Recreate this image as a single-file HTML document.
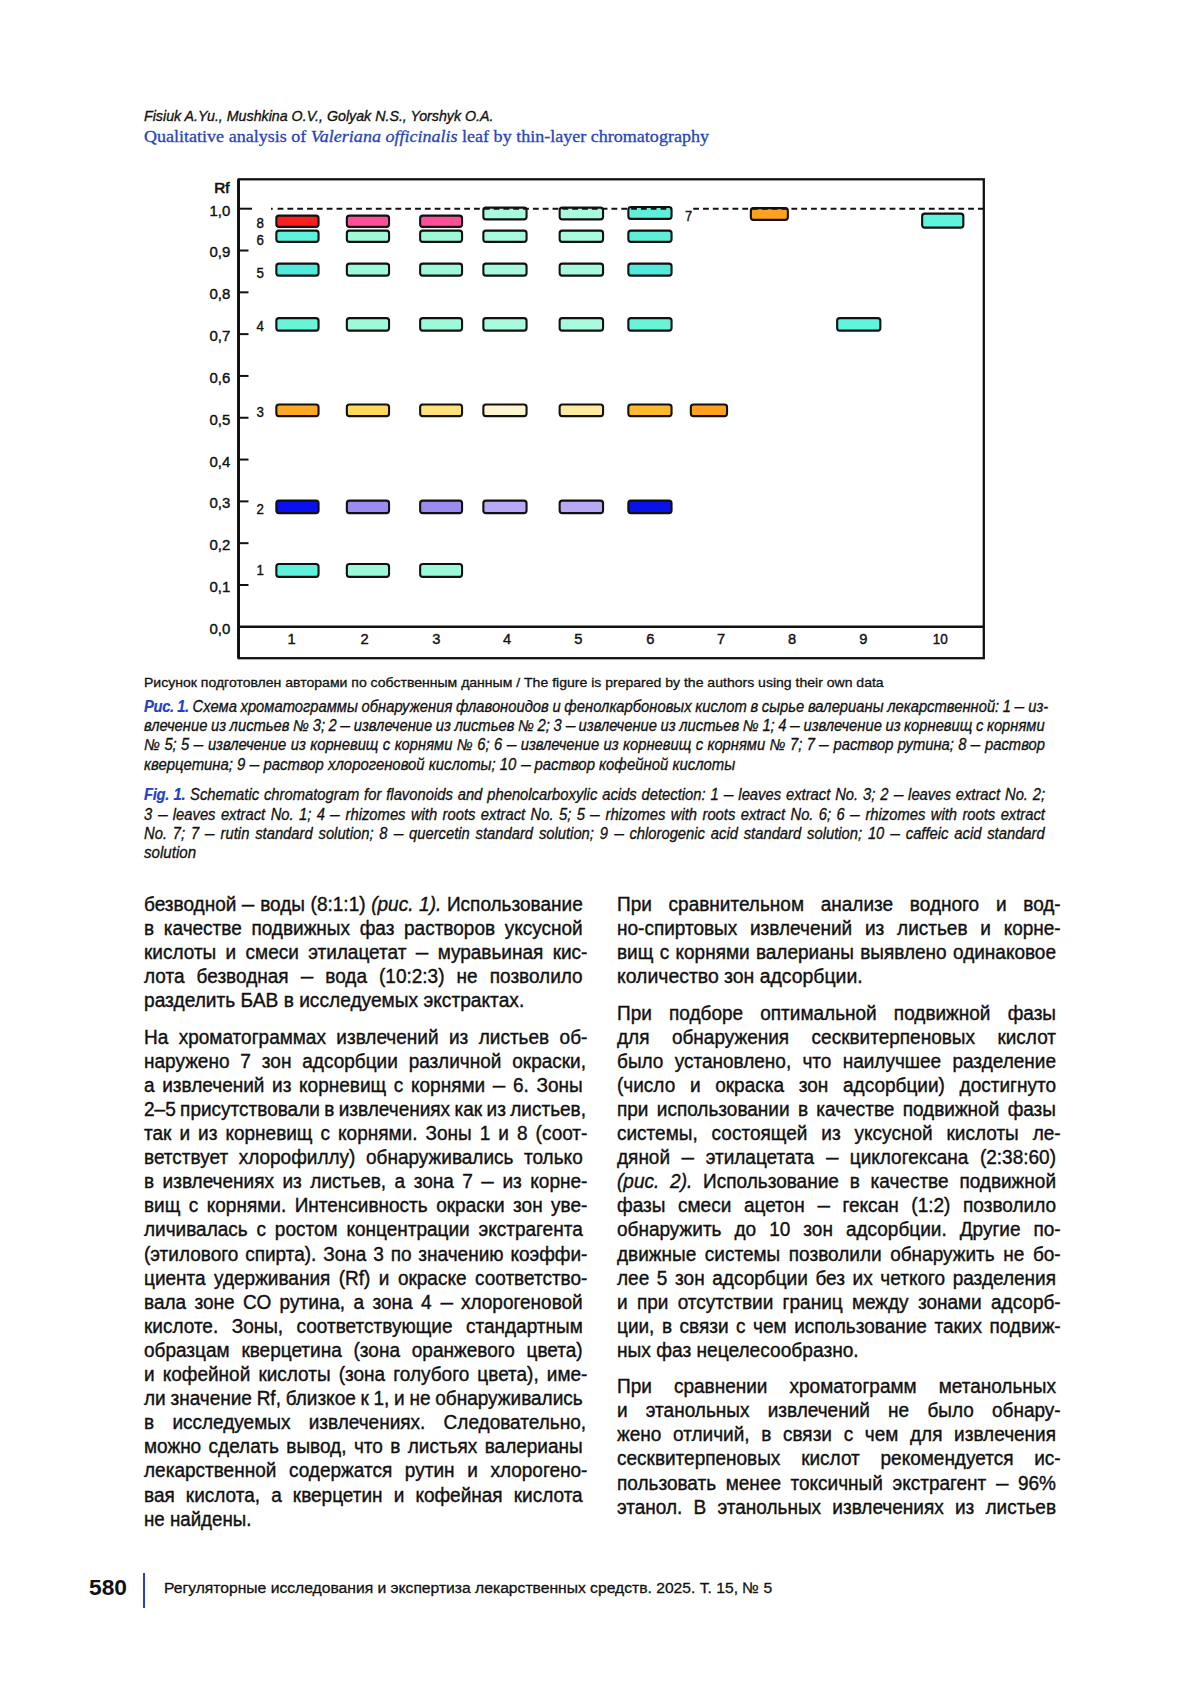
<!DOCTYPE html>
<html lang="ru"><head><meta charset="utf-8"><title>Qualitative analysis of Valeriana officinalis leaf by thin-layer chromatography</title>
<style>
html,body{margin:0;padding:0;background:#fff}
body{width:1200px;height:1697px;position:relative;overflow:hidden}
.body{font:20px 'Liberation Sans',sans-serif;color:#111;-webkit-text-stroke:0.4px #111}
.cap{font:italic 15.8px 'Liberation Sans',sans-serif;color:#111;-webkit-text-stroke:0.3px #111}
.note{font:13.4px 'Liberation Sans',sans-serif;color:#111;-webkit-text-stroke:0.3px #111}
.h1{font:italic 15.4px 'Liberation Sans',sans-serif;color:#111;-webkit-text-stroke:0.35px #111}
.h2{font:17px 'Liberation Serif',serif;color:#2845b8;-webkit-text-stroke:0.3px #2845b8}
.foot{font:15.4px 'Liberation Sans',sans-serif;color:#111;-webkit-text-stroke:0.3px #111}
.pg{font:bold 22.5px 'Liberation Sans',sans-serif;color:#111}

.d{display:inline-block;width:.66em;transform:scaleX(.66);transform-origin:0 0}
.l{position:absolute;white-space:nowrap;transform-origin:0 0;line-height:0;height:0}
.bar{position:absolute;left:142.8px;top:1573px;width:2.3px;height:34.6px;background:#2840c0}
</style></head><body>
<svg width="1200" height="700" viewBox="0 0 1200 700" style="position:absolute;left:0;top:0"><rect x="238.8" y="179.3" width="745" height="478.9" fill="none" stroke="#111" stroke-width="2.3"/><line x1="238.5" y1="179.3" x2="238.5" y2="658.2" stroke="#111" stroke-width="2.9"/><line x1="238.8" y1="626.8" x2="983.8" y2="626.8" stroke="#111" stroke-width="2.4"/><line x1="238.8" y1="208.70" x2="252" y2="208.70" stroke="#111" stroke-width="2"/><line x1="238.8" y1="250.51" x2="248.5" y2="250.51" stroke="#111" stroke-width="2"/><line x1="238.8" y1="292.32" x2="248.5" y2="292.32" stroke="#111" stroke-width="2"/><line x1="238.8" y1="334.13" x2="248.5" y2="334.13" stroke="#111" stroke-width="2"/><line x1="238.8" y1="375.94" x2="248.5" y2="375.94" stroke="#111" stroke-width="2"/><line x1="238.8" y1="417.75" x2="248.5" y2="417.75" stroke="#111" stroke-width="2"/><line x1="238.8" y1="459.56" x2="248.5" y2="459.56" stroke="#111" stroke-width="2"/><line x1="238.8" y1="501.37" x2="248.5" y2="501.37" stroke="#111" stroke-width="2"/><line x1="238.8" y1="543.18" x2="248.5" y2="543.18" stroke="#111" stroke-width="2"/><line x1="238.8" y1="584.99" x2="248.5" y2="584.99" stroke="#111" stroke-width="2"/><rect x="276.35" y="215.65" width="42.20" height="11.20" rx="2.6" fill="#FA1E1E" stroke="#111" stroke-width="2.1"/><rect x="346.85" y="215.65" width="42.20" height="11.20" rx="2.6" fill="#FF4F9A" stroke="#111" stroke-width="2.1"/><rect x="420.15" y="215.65" width="41.90" height="11.20" rx="2.6" fill="#FF4F9A" stroke="#111" stroke-width="2.1"/><rect x="483.35" y="207.65" width="43.20" height="11.70" rx="2.6" fill="#A8FADC" stroke="#111" stroke-width="2.1"/><rect x="559.65" y="207.65" width="43.40" height="11.70" rx="2.6" fill="#A8FADC" stroke="#111" stroke-width="2.1"/><rect x="628.35" y="206.95" width="43.20" height="11.90" rx="2.6" fill="#5EEFD8" stroke="#111" stroke-width="2.1"/><rect x="276.35" y="230.65" width="42.20" height="11.20" rx="2.6" fill="#5EF2DC" stroke="#111" stroke-width="2.1"/><rect x="346.85" y="230.65" width="42.20" height="11.20" rx="2.6" fill="#9CFAD8" stroke="#111" stroke-width="2.1"/><rect x="420.15" y="230.65" width="41.90" height="11.20" rx="2.6" fill="#9CFAD8" stroke="#111" stroke-width="2.1"/><rect x="483.35" y="230.65" width="43.20" height="11.20" rx="2.6" fill="#A8FADC" stroke="#111" stroke-width="2.1"/><rect x="559.65" y="230.65" width="43.40" height="11.20" rx="2.6" fill="#A8FADC" stroke="#111" stroke-width="2.1"/><rect x="628.35" y="230.65" width="43.20" height="11.20" rx="2.6" fill="#5EEFD8" stroke="#111" stroke-width="2.1"/><rect x="276.35" y="263.65" width="42.20" height="12.00" rx="2.6" fill="#52EADC" stroke="#111" stroke-width="2.1"/><rect x="346.85" y="263.65" width="42.20" height="12.00" rx="2.6" fill="#9CFAD8" stroke="#111" stroke-width="2.1"/><rect x="420.15" y="263.65" width="41.90" height="12.00" rx="2.6" fill="#9CFAD8" stroke="#111" stroke-width="2.1"/><rect x="483.35" y="263.65" width="43.20" height="12.00" rx="2.6" fill="#A8FADC" stroke="#111" stroke-width="2.1"/><rect x="559.65" y="263.65" width="43.40" height="12.00" rx="2.6" fill="#A8FADC" stroke="#111" stroke-width="2.1"/><rect x="628.35" y="263.65" width="43.20" height="12.00" rx="2.6" fill="#52EADC" stroke="#111" stroke-width="2.1"/><rect x="276.35" y="318.15" width="42.20" height="12.50" rx="2.6" fill="#66F5D5" stroke="#111" stroke-width="2.1"/><rect x="346.85" y="318.15" width="42.20" height="12.50" rx="2.6" fill="#9CFAD8" stroke="#111" stroke-width="2.1"/><rect x="420.15" y="318.15" width="41.90" height="12.50" rx="2.6" fill="#9CFAD8" stroke="#111" stroke-width="2.1"/><rect x="483.35" y="318.15" width="43.20" height="12.50" rx="2.6" fill="#A8FADC" stroke="#111" stroke-width="2.1"/><rect x="559.65" y="318.15" width="43.40" height="12.50" rx="2.6" fill="#A8FADC" stroke="#111" stroke-width="2.1"/><rect x="628.35" y="318.15" width="43.20" height="12.50" rx="2.6" fill="#66F5D5" stroke="#111" stroke-width="2.1"/><rect x="837.15" y="318.15" width="43.20" height="12.50" rx="2.6" fill="#5EF5DC" stroke="#111" stroke-width="2.1"/><rect x="276.35" y="404.45" width="42.20" height="11.70" rx="2.6" fill="#FFA826" stroke="#111" stroke-width="2.1"/><rect x="346.85" y="404.45" width="42.20" height="11.70" rx="2.6" fill="#FFD95A" stroke="#111" stroke-width="2.1"/><rect x="420.15" y="404.45" width="41.90" height="11.70" rx="2.6" fill="#FFE37A" stroke="#111" stroke-width="2.1"/><rect x="483.35" y="404.45" width="43.20" height="11.70" rx="2.6" fill="#FFF5D0" stroke="#111" stroke-width="2.1"/><rect x="559.65" y="404.45" width="43.40" height="11.70" rx="2.6" fill="#FFEBA0" stroke="#111" stroke-width="2.1"/><rect x="628.35" y="404.45" width="43.20" height="11.70" rx="2.6" fill="#FFB92E" stroke="#111" stroke-width="2.1"/><rect x="690.85" y="404.45" width="36.20" height="11.70" rx="2.6" fill="#FFA020" stroke="#111" stroke-width="2.1"/><rect x="276.35" y="500.65" width="42.20" height="12.50" rx="2.6" fill="#0A10F0" stroke="#111" stroke-width="2.1"/><rect x="346.85" y="500.65" width="42.20" height="12.50" rx="2.6" fill="#9C8CF0" stroke="#111" stroke-width="2.1"/><rect x="420.15" y="500.65" width="41.90" height="12.50" rx="2.6" fill="#9C8CF0" stroke="#111" stroke-width="2.1"/><rect x="483.35" y="500.65" width="43.20" height="12.50" rx="2.6" fill="#B8A8F5" stroke="#111" stroke-width="2.1"/><rect x="559.65" y="500.65" width="43.40" height="12.50" rx="2.6" fill="#B8A8F5" stroke="#111" stroke-width="2.1"/><rect x="628.35" y="500.65" width="43.20" height="12.50" rx="2.6" fill="#0A12EC" stroke="#111" stroke-width="2.1"/><rect x="276.35" y="563.95" width="42.20" height="12.90" rx="2.6" fill="#5EF2DC" stroke="#111" stroke-width="2.1"/><rect x="346.85" y="563.95" width="42.20" height="12.90" rx="2.6" fill="#9CFAD8" stroke="#111" stroke-width="2.1"/><rect x="420.15" y="563.95" width="41.90" height="12.90" rx="2.6" fill="#9CFAD8" stroke="#111" stroke-width="2.1"/><rect x="750.85" y="208.15" width="37.00" height="11.70" rx="2.6" fill="#FFA020" stroke="#111" stroke-width="2.1"/><rect x="922.15" y="213.65" width="41.20" height="14.00" rx="2.6" fill="#5EF5DC" stroke="#111" stroke-width="2.1"/><line x1="271" y1="208.7" x2="272.7" y2="208.7" stroke="#111" stroke-width="2"/><line x1="277.6" y1="208.7" x2="672" y2="208.7" stroke="#111" stroke-width="2" stroke-dasharray="5.8 4.02"/><line x1="693.2" y1="208.7" x2="983" y2="208.7" stroke="#111" stroke-width="2" stroke-dasharray="5.8 4.02"/><g font-family="'Liberation Sans',sans-serif" font-size="14.7" fill="#111" stroke="#111" stroke-width=".4"><text x="214.3" y="193" text-anchor="start" font-size="14.2" stroke-width=".65" textLength="15.3" lengthAdjust="spacingAndGlyphs">Rf</text><text x="209.5" y="215.6" text-anchor="start" textLength="20.8" lengthAdjust="spacingAndGlyphs">1,0</text><text x="209.5" y="257.4" text-anchor="start" textLength="20.8" lengthAdjust="spacingAndGlyphs">0,9</text><text x="209.5" y="299.2" text-anchor="start" textLength="20.8" lengthAdjust="spacingAndGlyphs">0,8</text><text x="209.5" y="341.0" text-anchor="start" textLength="20.8" lengthAdjust="spacingAndGlyphs">0,7</text><text x="209.5" y="382.8" text-anchor="start" textLength="20.8" lengthAdjust="spacingAndGlyphs">0,6</text><text x="209.5" y="424.6" text-anchor="start" textLength="20.8" lengthAdjust="spacingAndGlyphs">0,5</text><text x="209.5" y="466.5" text-anchor="start" textLength="20.8" lengthAdjust="spacingAndGlyphs">0,4</text><text x="209.5" y="508.3" text-anchor="start" textLength="20.8" lengthAdjust="spacingAndGlyphs">0,3</text><text x="209.5" y="550.1" text-anchor="start" textLength="20.8" lengthAdjust="spacingAndGlyphs">0,2</text><text x="209.5" y="591.9" text-anchor="start" textLength="20.8" lengthAdjust="spacingAndGlyphs">0,1</text><text x="209.5" y="633.7" text-anchor="start" textLength="20.8" lengthAdjust="spacingAndGlyphs">0,0</text><text x="256.5" y="227.6" text-anchor="start" textLength="7.4" lengthAdjust="spacingAndGlyphs">8</text><text x="256.5" y="244.6" text-anchor="start" textLength="7.4" lengthAdjust="spacingAndGlyphs">6</text><text x="256.5" y="278.2" text-anchor="start" textLength="7.4" lengthAdjust="spacingAndGlyphs">5</text><text x="256.5" y="331.3" text-anchor="start" textLength="7.4" lengthAdjust="spacingAndGlyphs">4</text><text x="256.5" y="417.3" text-anchor="start" textLength="7.4" lengthAdjust="spacingAndGlyphs">3</text><text x="256.5" y="514.3" text-anchor="start" textLength="7.4" lengthAdjust="spacingAndGlyphs">2</text><text x="256.5" y="575.2" text-anchor="start" textLength="7.4" lengthAdjust="spacingAndGlyphs">1</text><text x="685" y="221.3" text-anchor="start" textLength="7.2" lengthAdjust="spacingAndGlyphs">7</text><text x="291.5" y="644.3" text-anchor="middle" >1</text><text x="364.5" y="644.3" text-anchor="middle" >2</text><text x="436.3" y="644.3" text-anchor="middle" >3</text><text x="507" y="644.3" text-anchor="middle" >4</text><text x="578.3" y="644.3" text-anchor="middle" >5</text><text x="650.3" y="644.3" text-anchor="middle" >6</text><text x="721" y="644.3" text-anchor="middle" >7</text><text x="792" y="644.3" text-anchor="middle" >8</text><text x="863.3" y="644.3" text-anchor="middle" >9</text><text x="940.3" y="644.3" text-anchor="middle" textLength="15" lengthAdjust="spacingAndGlyphs">10</text></g></svg>
<div class="l h1" style="left:143.8px;top:116.36px;transform:scaleX(0.9245);">Fisiuk A.Yu., Mushkina O.V., Golyak N.S., Yorshyk O.A.</div>
<div class="l h2" style="left:143.8px;top:136.86px;transform:scaleX(1.0609);">Qualitative analysis of <i>Valeriana officinalis</i> leaf by thin-layer chromatography</div>
<div class="l note" style="left:144.3px;top:682.76px;transform:scaleX(1.0480);">Рисунок подготовлен авторами по собственным данным / The figure is prepared by the authors using their own data</div>
<div class="l cap" style="left:143.8px;top:706.53px;transform:scaleX(0.9350);word-spacing:-0.460px;"><b style="color:#2340c4;-webkit-text-stroke:0.2px #2340c4;letter-spacing:-.35px">Рис. 1.</b> Схема хроматограммы обнаружения флавоноидов и фенолкарбоновых кислот в сырье валерианы лекарственной: 1 <span class="d">—</span> из-</div>
<div class="l cap" style="left:143.8px;top:725.86px;transform:scaleX(0.9350);word-spacing:-0.551px;">влечение из листьев № 3; 2 <span class="d">—</span> извлечение из листьев № 2; 3 <span class="d">—</span> извлечение из листьев № 1; 4 <span class="d">—</span> извлечение из корневищ с корнями</div>
<div class="l cap" style="left:143.8px;top:745.19px;transform:scaleX(0.9350);word-spacing:0.318px;">№ 5; 5 <span class="d">—</span> извлечение из корневищ с корнями № 6; 6 <span class="d">—</span> извлечение из корневищ с корнями № 7; 7 <span class="d">—</span> раствор рутина; 8 <span class="d">—</span> раствор</div>
<div class="l cap" style="left:143.8px;top:764.52px;transform:scaleX(0.9425);">кверцетина; 9 <span class="d">—</span> раствор хлорогеновой кислоты; 10 <span class="d">—</span> раствор кофейной кислоты</div>
<div class="l cap" style="left:143.8px;top:795.33px;transform:scaleX(0.9350);word-spacing:0.868px;"><b style="color:#2340c4;-webkit-text-stroke:0.2px #2340c4;letter-spacing:-.35px">Fig. 1.</b> Schematic chromatogram for flavonoids and phenolcarboxylic acids detection: 1 <span class="d">—</span> leaves extract No. 3; 2 <span class="d">—</span> leaves extract No. 2;</div>
<div class="l cap" style="left:143.8px;top:814.66px;transform:scaleX(0.9350);word-spacing:1.401px;">3 <span class="d">—</span> leaves extract No. 1; 4 <span class="d">—</span> rhizomes with roots extract No. 5; 5 <span class="d">—</span> rhizomes with roots extract No. 6; 6 <span class="d">—</span> rhizomes with roots extract</div>
<div class="l cap" style="left:143.8px;top:833.99px;transform:scaleX(0.9350);word-spacing:1.855px;">No. 7; 7 <span class="d">—</span> rutin standard solution; 8 <span class="d">—</span> quercetin standard solution; 9 <span class="d">—</span> chlorogenic acid standard solution; 10 <span class="d">—</span> caffeic acid standard</div>
<div class="l cap" style="left:143.8px;top:853.32px;transform:scaleX(0.9586);">solution</div>
<div class="l body" style="left:143.6px;top:904.07px;transform:scaleX(0.9500);word-spacing:0.405px;">безводной <span class="d">—</span> воды (8:1:1) <i>(рис. 1).</i> Использование</div>
<div class="l body" style="left:143.6px;top:928.17px;transform:scaleX(0.9500);word-spacing:4.617px;">в качестве подвижных фаз растворов уксусной</div>
<div class="l body" style="left:143.6px;top:952.27px;transform:scaleX(0.9500);word-spacing:4.300px;">кислоты и смеси этилацетат <span class="d">—</span> муравьиная кис-</div>
<div class="l body" style="left:143.6px;top:976.37px;transform:scaleX(0.9500);word-spacing:7.160px;">лота безводная <span class="d">—</span> вода (10:2:3) не позволило</div>
<div class="l body" style="left:143.6px;top:1000.47px;transform:scaleX(0.9579);">разделить БАВ в исследуемых экстрактах.</div>
<div class="l body" style="left:143.6px;top:1036.67px;transform:scaleX(0.9500);word-spacing:5.432px;">На хроматограммах извлечений из листьев об-</div>
<div class="l body" style="left:143.6px;top:1060.77px;transform:scaleX(0.9500);word-spacing:5.918px;">наружено 7 зон адсорбции различной окраски,</div>
<div class="l body" style="left:143.6px;top:1084.87px;transform:scaleX(0.9500);word-spacing:2.519px;">а извлечений из корневищ с корнями <span class="d">—</span> 6. Зоны</div>
<div class="l body" style="left:143.6px;top:1108.97px;transform:scaleX(0.9500);word-spacing:-0.925px;">2–5 присутствовали в извлечениях как из листьев,</div>
<div class="l body" style="left:143.6px;top:1133.07px;transform:scaleX(0.9500);word-spacing:2.908px;">так и из корневищ с корнями. Зоны 1 и 8 (соот-</div>
<div class="l body" style="left:143.6px;top:1157.17px;transform:scaleX(0.9500);word-spacing:5.560px;">ветствует хлорофиллу) обнаруживались только</div>
<div class="l body" style="left:143.6px;top:1181.27px;transform:scaleX(0.9500);word-spacing:3.413px;">в извлечениях из листьев, а зона 7 <span class="d">—</span> из корне-</div>
<div class="l body" style="left:143.6px;top:1205.37px;transform:scaleX(0.9500);word-spacing:3.360px;">вищ с корнями. Интенсивность окраски зон уве-</div>
<div class="l body" style="left:143.6px;top:1229.47px;transform:scaleX(0.9500);word-spacing:3.729px;">личивалась с ростом концентрации экстрагента</div>
<div class="l body" style="left:143.6px;top:1253.57px;transform:scaleX(0.9500);word-spacing:1.667px;">(этилового спирта). Зона 3 по значению коэффи-</div>
<div class="l body" style="left:143.6px;top:1277.67px;transform:scaleX(0.9500);word-spacing:3.335px;">циента удерживания (Rf) и окраске соответство-</div>
<div class="l body" style="left:143.6px;top:1301.77px;transform:scaleX(0.9500);word-spacing:3.310px;">вала зоне СО рутина, а зона 4 <span class="d">—</span> хлорогеновой</div>
<div class="l body" style="left:143.6px;top:1325.87px;transform:scaleX(0.9500);word-spacing:8.607px;">кислоте. Зоны, соответствующие стандартным</div>
<div class="l body" style="left:143.6px;top:1349.97px;transform:scaleX(0.9500);word-spacing:6.881px;">образцам кверцетина (зона оранжевого цвета)</div>
<div class="l body" style="left:143.6px;top:1374.07px;transform:scaleX(0.9500);word-spacing:2.969px;">и кофейной кислоты (зона голубого цвета), име-</div>
<div class="l body" style="left:143.6px;top:1398.17px;transform:scaleX(0.9500);word-spacing:-0.577px;">ли значение Rf, близкое к 1, и не обнаруживались</div>
<div class="l body" style="left:143.6px;top:1422.27px;transform:scaleX(0.9500);word-spacing:13.692px;">в исследуемых извлечениях. Следовательно,</div>
<div class="l body" style="left:143.6px;top:1446.37px;transform:scaleX(0.9500);word-spacing:2.228px;">можно сделать вывод, что в листьях валерианы</div>
<div class="l body" style="left:143.6px;top:1470.47px;transform:scaleX(0.9500);word-spacing:7.758px;">лекарственной содержатся рутин и хлорогено-</div>
<div class="l body" style="left:143.6px;top:1494.57px;transform:scaleX(0.9500);word-spacing:6.134px;">вая кислота, а кверцетин и кофейная кислота</div>
<div class="l body" style="left:143.6px;top:1518.67px;transform:scaleX(0.9352);">не найдены.</div>
<div class="l body" style="left:617.3px;top:904.07px;transform:scaleX(0.9500);word-spacing:12.082px;">При сравнительном анализе водного и вод-</div>
<div class="l body" style="left:617.3px;top:928.17px;transform:scaleX(0.9500);word-spacing:7.879px;">но-спиртовых извлечений из листьев и корне-</div>
<div class="l body" style="left:617.3px;top:952.27px;transform:scaleX(0.9500);word-spacing:1.099px;">вищ с корнями валерианы выявлено одинаковое</div>
<div class="l body" style="left:617.3px;top:976.37px;transform:scaleX(0.9710);">количество зон адсорбции.</div>
<div class="l body" style="left:617.3px;top:1012.57px;transform:scaleX(0.9500);word-spacing:12.503px;">При подборе оптимальной подвижной фазы</div>
<div class="l body" style="left:617.3px;top:1036.67px;transform:scaleX(0.9500);word-spacing:18.072px;">для обнаружения сесквитерпеновых кислот</div>
<div class="l body" style="left:617.3px;top:1060.77px;transform:scaleX(0.9500);word-spacing:6.280px;">было установлено, что наилучшее разделение</div>
<div class="l body" style="left:617.3px;top:1084.87px;transform:scaleX(0.9500);word-spacing:9.924px;">(число и окраска зон адсорбции) достигнуто</div>
<div class="l body" style="left:617.3px;top:1108.97px;transform:scaleX(0.9500);word-spacing:3.221px;">при использовании в качестве подвижной фазы</div>
<div class="l body" style="left:617.3px;top:1133.07px;transform:scaleX(0.9500);word-spacing:9.132px;">системы, состоящей из уксусной кислоты ле-</div>
<div class="l body" style="left:617.3px;top:1157.17px;transform:scaleX(0.9500);word-spacing:6.584px;">дяной <span class="d">—</span> этилацетата <span class="d">—</span> циклогексана (2:38:60)</div>
<div class="l body" style="left:617.3px;top:1181.27px;transform:scaleX(0.9500);word-spacing:5.837px;"><i>(рис. 2).</i> Использование в качестве подвижной</div>
<div class="l body" style="left:617.3px;top:1205.37px;transform:scaleX(0.9500);word-spacing:7.770px;">фазы смеси ацетон <span class="d">—</span> гексан (1:2) позволило</div>
<div class="l body" style="left:617.3px;top:1229.47px;transform:scaleX(0.9500);word-spacing:8.139px;">обнаружить до 10 зон адсорбции. Другие по-</div>
<div class="l body" style="left:617.3px;top:1253.57px;transform:scaleX(0.9500);word-spacing:3.489px;">движные системы позволили обнаружить не бо-</div>
<div class="l body" style="left:617.3px;top:1277.67px;transform:scaleX(0.9500);word-spacing:2.490px;">лее 5 зон адсорбции без их четкого разделения</div>
<div class="l body" style="left:617.3px;top:1301.77px;transform:scaleX(0.9500);word-spacing:4.212px;">и при отсутствии границ между зонами адсорб-</div>
<div class="l body" style="left:617.3px;top:1325.87px;transform:scaleX(0.9500);word-spacing:2.371px;">ции, в связи с чем использование таких подвиж-</div>
<div class="l body" style="left:617.3px;top:1349.97px;transform:scaleX(0.9570);">ных фаз нецелесообразно.</div>
<div class="l body" style="left:617.3px;top:1386.17px;transform:scaleX(0.9500);word-spacing:17.681px;">При сравнении хроматограмм метанольных</div>
<div class="l body" style="left:617.3px;top:1410.27px;transform:scaleX(0.9500);word-spacing:13.629px;">и этанольных извлечений не было обнару-</div>
<div class="l body" style="left:617.3px;top:1434.37px;transform:scaleX(0.9500);word-spacing:6.725px;">жено отличий, в связи с чем для извлечения</div>
<div class="l body" style="left:617.3px;top:1458.47px;transform:scaleX(0.9500);word-spacing:16.325px;">сесквитерпеновых кислот рекомендуется ис-</div>
<div class="l body" style="left:617.3px;top:1482.57px;transform:scaleX(0.9500);word-spacing:4.521px;">пользовать менее токсичный экстрагент <span class="d">—</span> 96%</div>
<div class="l body" style="left:617.3px;top:1506.67px;transform:scaleX(0.9500);word-spacing:6.280px;">этанол. В этанольных извлечениях из листьев</div>
<div class="l pg" style="left:89.3px;top:1588.00px;transform:scaleX(1.0094);">580</div>
<div class="l foot" style="left:163.8px;top:1588.46px;transform:scaleX(1.0173);">Регуляторные исследования и экспертиза лекарственных средств. 2025. Т. 15, № 5</div>
<div class="bar"></div>
</body></html>
